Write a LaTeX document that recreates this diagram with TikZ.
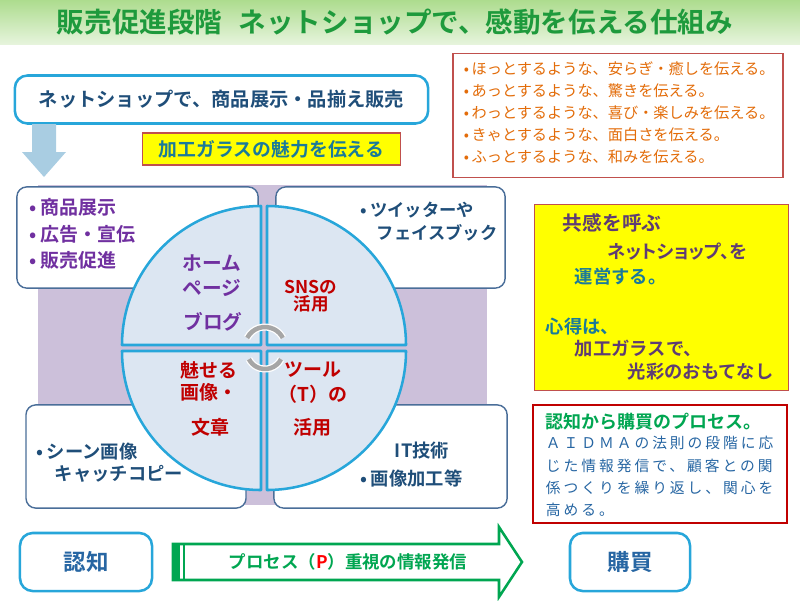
\documentclass[tikz,border=0pt]{standalone}
\usepackage{fontspec}
\setmainfont{Noto Sans CJK JP}[BoldFont={Noto Sans CJK JP Bold}]
\usetikzlibrary{arrows.meta,calc,positioning}
\definecolor{TitleGreen}{HTML}{1E9A3C}
\definecolor{BandTop}{HTML}{ADDC8E}
\definecolor{BandBot}{HTML}{E6F4DC}
\definecolor{Cyan}{HTML}{27A6DA}
\definecolor{Navy}{HTML}{1F4E79}
\definecolor{SkyArrow}{HTML}{A9CDE2}
\definecolor{Lemon}{HTML}{FFFF00}
\definecolor{Brick}{HTML}{C0504D}
\definecolor{Amber}{HTML}{E36C09}
\definecolor{Lilac}{HTML}{CCC0DA}
\definecolor{Frame}{HTML}{4A6E99}
\definecolor{Pale}{HTML}{DCE6F2}
\definecolor{Plum}{HTML}{7030A0}
\definecolor{DeepPlum}{HTML}{5E3C74}
\definecolor{Crimson}{HTML}{C00000}
\definecolor{Teal}{HTML}{1A7A9A}
\definecolor{Leaf}{HTML}{00A651}
\definecolor{Ink}{HTML}{2766A3}
\definecolor{Steel}{HTML}{A6A6A6}

\begin{document}
\begin{tikzpicture}[x=0.025cm, y=-0.025cm,
    panel/.style={draw=Frame, line width=1pt, fill=white, rounded corners=7pt},
    quad/.style={draw=Cyan, line width=1.8pt, fill=Pale, line join=round},
    blueframe/.style={draw=Cyan, line width=1.8pt, fill=white, rounded corners=9pt},
    notebox/.style={draw=Brick, line width=0.8pt},
    bigtxt/.style={font=\fontsize{13.5}{19}\selectfont\bfseries, align=left},
    quadtxt/.style={font=\fontsize{13.5}{17.7}\selectfont\bfseries, align=center}]
  \useasboundingbox (0,0) rectangle (800,600);
  % title band
  \shade[top color=BandTop, bottom color=BandBot] (0,0) rectangle (800,44);
  \node[font=\fontsize{19.6}{24}\selectfont\bfseries, text=TitleGreen] (title) at (395,22) {販売促進段階\hspace{0.6em}ネットショップで、感動を伝える仕組み};

  % shop heading and arrow
  \node[blueframe, minimum width=10.33cm, minimum height=1.2cm, font=\fontsize{13.7}{16}\selectfont\bfseries, text=Navy] (shop) at (221.5,99.5) {ネットショップで、商品展示・品揃え販売};
  \fill[SkyArrow] (32,124) -- (56,124) -- (56,152) -- (66,152) -- (44,177) -- (22,152) -- (32,152) -- cycle;
  \node[notebox, fill=Lemon, minimum width=6.43cm, minimum height=0.8cm, font=\fontsize{13.4}{16}\selectfont\bfseries, text=Teal] (charm) at (271.5,149) {加工ガラスの魅力を伝える};

  % moods list
  \node[notebox, fill=white, minimum width=8.25cm, minimum height=3.08cm] (moods) at (618,115.5) {};
  \node[anchor=west, align=left, text=Amber, font=\fontsize{10.8}{15.7}\selectfont] (moodtxt) at (459,112.5) {%
    •\,ほっとするような、安らぎ・癒しを伝える。\\
    •\,あっとするような、驚きを伝える。\\
    •\,わっとするような、喜び・楽しみを伝える。\\
    •\,きゃとするような、面白さを伝える。\\
    •\,ふっとするような、和みを伝える。};

  % four panels on lilac
  \fill[Lilac] (38,185) rectangle (487,505);
  \node[panel, minimum width=6.03cm, minimum height=2.53cm] (shelf) at (137.5,237.5) {};
  \node[panel, minimum width=5.73cm, minimum height=2.53cm] (social) at (390.5,237.5) {};
  \node[panel, minimum width=5.5cm, minimum height=2.58cm] (scene) at (136,456.5) {};
  \node[panel, minimum width=5.83cm, minimum height=2.58cm] (craft) at (390.5,456.5) {};

  \node[bigtxt, anchor=west, text=Plum] (shelftxt) at (25,234) {•\,商品展示\\•\,広告・宣伝\\•\,販売促進};
  \node[bigtxt, font=\fontsize{12.3}{18}\selectfont\bfseries, anchor=west, text=Navy] (sns1) at (356,210) {•\,ツイッターや};
  \node[bigtxt, font=\fontsize{12.3}{18}\selectfont\bfseries, anchor=west, text=Navy] (sns2) at (372,233) {フェイスブック};
  \node[bigtxt, font=\fontsize{13}{18}\selectfont\bfseries, anchor=west, text=Navy] (scene1) at (32,452) {•\,シーン画像};
  \node[bigtxt, font=\fontsize{13}{18}\selectfont\bfseries, anchor=west, text=Navy] (scene2) at (50,474) {キャッチコピー};
  \node[bigtxt, font=\fontsize{13}{18}\selectfont\bfseries, text=Navy] (craft1) at (422,451) {IT技術};
  \node[bigtxt, font=\fontsize{13}{18}\selectfont\bfseries, anchor=west, text=Navy] (craft2) at (356,478) {•\,画像加工等};

  % quartered circle
  \draw[quad] (261,345) -- ++(-139,0) arc[start angle=180, end angle=270, radius=139] -- cycle;
  \draw[quad] (267,345) -- ++(0,-139) arc[start angle=270, end angle=360, radius=139] -- cycle;
  \draw[quad] (267,351) -- ++(139,0) arc[start angle=0, end angle=90, radius=139] -- cycle;
  \draw[quad] (261,351) -- ++(0,139) arc[start angle=90, end angle=180, radius=139] -- cycle;

  \draw[white, line width=5pt] (265,347) ++(207:20) arc[start angle=207, end angle=333, radius=20];
  \draw[Steel, line width=3.2pt] (265,347) ++(207:20) arc[start angle=207, end angle=333, radius=20];
  \draw[white, line width=5pt] (265,351) ++(27:18) arc[start angle=27, end angle=153, radius=18];
  \draw[Steel, line width=3.2pt] (265,351) ++(27:18) arc[start angle=27, end angle=153, radius=18];

  \node[quadtxt, font=\fontsize{14}{17.7}\selectfont\bfseries, text=Plum] (home) at (212,275.5) {ホーム\\ページ};
  \node[quadtxt, font=\fontsize{14}{17.7}\selectfont\bfseries, text=Plum] (blog) at (213,322) {ブログ};
  \node[quadtxt, font=\fontsize{12.5}{12.5}\selectfont\bfseries, text=Crimson] (sns) at (311,296) {SNSの\\活用};
  \node[quadtxt, font=\fontsize{13.5}{15.6}\selectfont\bfseries, text=Crimson] (show) at (209,381) {魅せる\\画像・};
  \node[quadtxt, text=Crimson] (prose) at (210,427) {文章};
  \node[quadtxt, text=Crimson] (tool) at (313,382.5) {ツール\\（T）の};
  \node[quadtxt, text=Crimson] (use) at (312,427) {活用};

  % empathy box
  \node[notebox, fill=Lemon, minimum width=6.33cm, minimum height=4.63cm] (empathy) at (661.5,297.5) {};
  \node[anchor=west, font=\fontsize{14}{16}\selectfont\bfseries, text=DeepPlum] (emp1) at (558,223) {共感を呼ぶ};
  \node[anchor=west, font=\fontsize{13}{16}\selectfont\bfseries\addfontfeature{CharacterWidth=AlternateProportional}, text=DeepPlum] (emp2) at (603,252) {ネットショップ、を};
  \node[anchor=west, font=\fontsize{13}{16}\selectfont\bfseries, text=Teal] (emp3) at (570,277) {運営する。};
  \node[anchor=west, font=\fontsize{13}{16}\selectfont\bfseries, text=Teal] (emp4) at (541,327) {心得は、};
  \node[anchor=west, font=\fontsize{13}{16}\selectfont\bfseries, text=DeepPlum] (emp5) at (570,349) {加工ガラスで、};
  \node[anchor=west, font=\fontsize{13}{16}\selectfont\bfseries, text=DeepPlum] (emp6) at (623,372) {光彩のおもてなし};

  % process box
  \node[draw=Crimson, line width=0.8pt, fill=white, minimum width=6.35cm, minimum height=2.95cm] (process) at (660,464) {};
  \node[anchor=west, font=\fontsize{12.8}{15}\selectfont\bfseries, text=Leaf] (proctitle) at (541,422) {認知から購買のプロセス。};
  \node[anchor=west, align=left, text=Ink, font=\fontsize{10.5}{15.8}\selectfont\addfontfeature{LetterSpace=20}] (proctxt) at (541,476.5) {%
    ＡＩＤＭＡの法則の段階に応\\じた情報発信で、顧客との関\\係つくりを繰り返し、関心を\\高める。};

  % bottom flow
  \node[blueframe, minimum width=3.3cm, minimum height=1.45cm, font=\fontsize{16}{18}\selectfont\bfseries, text=Ink] (aware) at (86,562) {認知};
  \node[blueframe, minimum width=3cm, minimum height=1.45cm, font=\fontsize{16}{18}\selectfont\bfseries, text=Ink] (buy) at (630,562) {購買};
  \draw[Leaf, line width=1.8pt, fill=white, line join=miter] (173,544) -- (499,544) -- (499,527) -- (522,562) -- (499,597) -- (499,580) -- (173,580) -- cycle;
  \fill[Leaf] (173,544) rectangle (180,580);
  \draw[Leaf, line width=1pt] (184,544) -- (184,580);
  \node[font=\fontsize{12.4}{15}\selectfont\bfseries, text=Leaf] (flow) at (348,562) {プロセス（\textcolor{red}{P}）重視の情報発信};
\end{tikzpicture}
\end{document}
